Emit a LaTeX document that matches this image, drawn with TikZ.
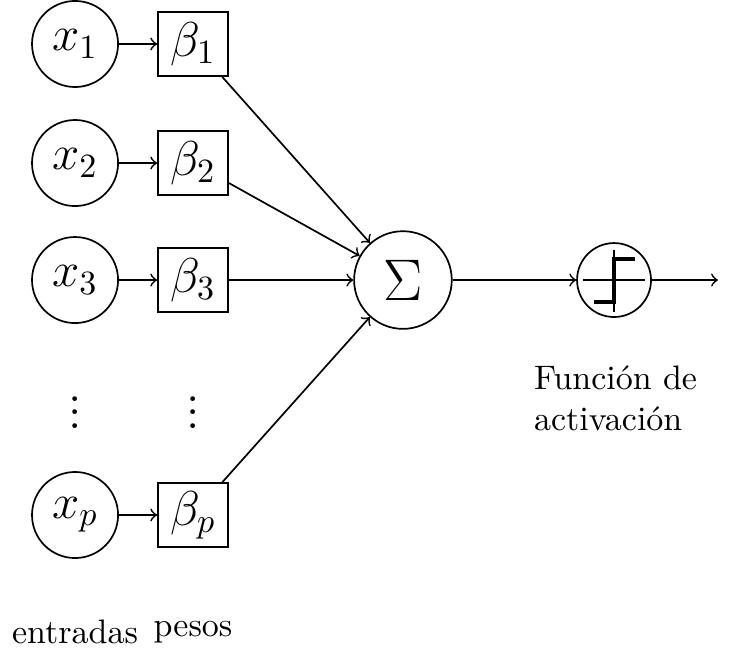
\documentclass[tikz,border=0pt]{standalone}
\begin{document}
\begin{tikzpicture}[line width=0.5pt,
    entrada/.style={circle,draw,minimum size=0.89cm,inner sep=0pt,font=\Large},
    peso/.style={rectangle,draw,minimum width=0.724cm,minimum height=0.662cm,inner sep=0pt,font=\Large},
    suma/.style={circle,draw,minimum size=1.01cm,inner sep=0pt,font=\LARGE},
    activa/.style={circle,draw,minimum size=0.765cm,inner sep=0pt},
    puntos/.style={font=\Large}
  ]
  \useasboundingbox (0,0) rectangle (7.725,-6.815);
  \node[entrada] (x1) at (0.776,-0.455) {$x_1$};
  \node[entrada] (x2) at (0.776,-1.686) {$x_2$};
  \node[entrada] (x3) at (0.776,-2.896) {$x_3$};
  \node[puntos] (dx) at (0.776,-4.16) {$\vdots$};
  \node[entrada] (xp) at (0.776,-5.326) {$x_p$};
  \node[peso] (b1) at (1.996,-0.455) {$\beta_1$};
  \node[peso] (b2) at (1.996,-1.686) {$\beta_2$};
  \node[peso] (b3) at (1.996,-2.896) {$\beta_3$};
  \node[puntos] (db) at (1.996,-4.16) {$\vdots$};
  \node[peso] (bp) at (1.996,-5.326) {$\beta_p$};
  \node[suma] (sum) at (4.167,-2.896) {$\Sigma$};
  \node[activa] (act) at (6.35,-2.896) {};
  \coordinate (out) at (7.425,-2.896);
  % escalon
  \draw ([xshift=-0.32cm]act.center) -- ([xshift=0.32cm]act.center);
  \draw ([yshift=0.31cm]act.center) -- ([yshift=-0.33cm]act.center);
  \draw[line width=1.2pt] ([shift={(-0.21,-0.23)}]act.center) -- ([shift={(0,-0.23)}]act.center)
    -- ([shift={(0,0.22)}]act.center) -- ([shift={(0.22,0.22)}]act.center);
  \node[anchor=west,align=left,inner sep=0pt] (fun) at (5.515,-4.12) {Función de\\activación};
  \node (ent) at (0.776,-6.535) {entradas};
  \node (pes) at (1.996,-6.535) {pesos};
  \begin{scope}[->]
    \draw (x1) to (b1);
    \draw (x2) to (b2);
    \draw (x3) to (b3);
    \draw (xp) to (bp);
    \draw (b1) to (sum);
    \draw (b2) to (sum);
    \draw (b3) to (sum);
    \draw (bp) to (sum);
    \draw (sum) to (act);
    \draw (act) to (out);
  \end{scope}
\end{tikzpicture}
\end{document}
